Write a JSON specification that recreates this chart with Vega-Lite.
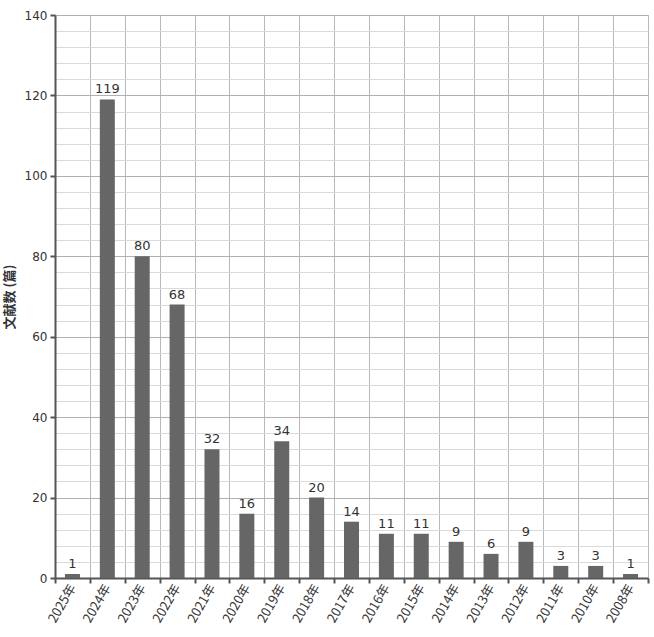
{
  "$schema": "https://vega.github.io/schema/vega-lite/v6.json",
  "width": 593,
  "height": 563,
  "autosize": {"type": "none"},
  "padding": {"left": 55, "top": 15, "right": 6, "bottom": 59},
  "background": "white",
  "config": {
    "view": {"stroke": "#bbbbbb", "strokeWidth": 1},
    "font": "DejaVu Sans"
  },
  "data": {
    "values": [
      {"year": "2025年", "count": 1},
      {"year": "2024年", "count": 119},
      {"year": "2023年", "count": 80},
      {"year": "2022年", "count": 68},
      {"year": "2021年", "count": 32},
      {"year": "2020年", "count": 16},
      {"year": "2019年", "count": 34},
      {"year": "2018年", "count": 20},
      {"year": "2017年", "count": 14},
      {"year": "2016年", "count": 11},
      {"year": "2015年", "count": 11},
      {"year": "2014年", "count": 9},
      {"year": "2013年", "count": 6},
      {"year": "2012年", "count": 9},
      {"year": "2011年", "count": 3},
      {"year": "2010年", "count": 3},
      {"year": "2008年", "count": 1}
    ]
  },
  "encoding": {
    "x": {
      "field": "year",
      "type": "nominal",
      "sort": null,
      "scale": {"paddingInner": 0, "paddingOuter": 0},
      "axis": {
        "title": null,
        "tickBand": "extent",
        "grid": true,
        "gridColor": "#b8b8b8",
        "gridWidth": 1,
        "domainColor": "#555555",
        "domainWidth": 2,
        "tickColor": "#555555",
        "tickWidth": 2,
        "tickSize": 5,
        "labelAngle": -60,
        "labelAlign": "right",
        "labelBaseline": "middle",
        "labelFont": "Noto Sans CJK SC",
        "labelFontSize": 13,
        "labelColor": "#333333",
        "labelPadding": 2
      }
    },
    "y": {
      "field": "count",
      "type": "quantitative",
      "scale": {"domain": [0, 140], "nice": false},
      "axis": {
        "title": "文献数 (篇)",
        "titleFont": "Noto Sans CJK SC",
        "titleFontSize": 13,
        "titleFontWeight": "bold",
        "titleColor": "#333333",
        "titlePadding": 8,
        "values": [0, 4, 8, 12, 16, 20, 24, 28, 32, 36, 40, 44, 48, 52, 56, 60, 64, 68, 72, 76, 80, 84, 88, 92, 96, 100, 104, 108, 112, 116, 120, 124, 128, 132, 136, 140],
        "labelExpr": "datum.value % 20 == 0 ? datum.label : ''",
        "labelFontSize": 12,
        "labelColor": "#333333",
        "labelPadding": 3,
        "gridColor": {"expr": "datum.value % 20 == 0 ? '#b0b0b0' : '#dadada'"},
        "gridWidth": 1,
        "domainColor": "#555555",
        "domainWidth": 2,
        "tickColor": "#555555",
        "tickWidth": 2,
        "tickSize": 5,
        "tickOpacity": {"expr": "datum.value % 20 == 0 ? 1 : 0"}
      }
    }
  },
  "layer": [
    {"mark": {"type": "bar", "color": "#666666", "width": {"band": 0.43}}},
    {
      "mark": {"type": "text", "dy": -10, "fontSize": 13, "color": "#333333"},
      "encoding": {"text": {"field": "count", "type": "quantitative"}}
    }
  ]
}
